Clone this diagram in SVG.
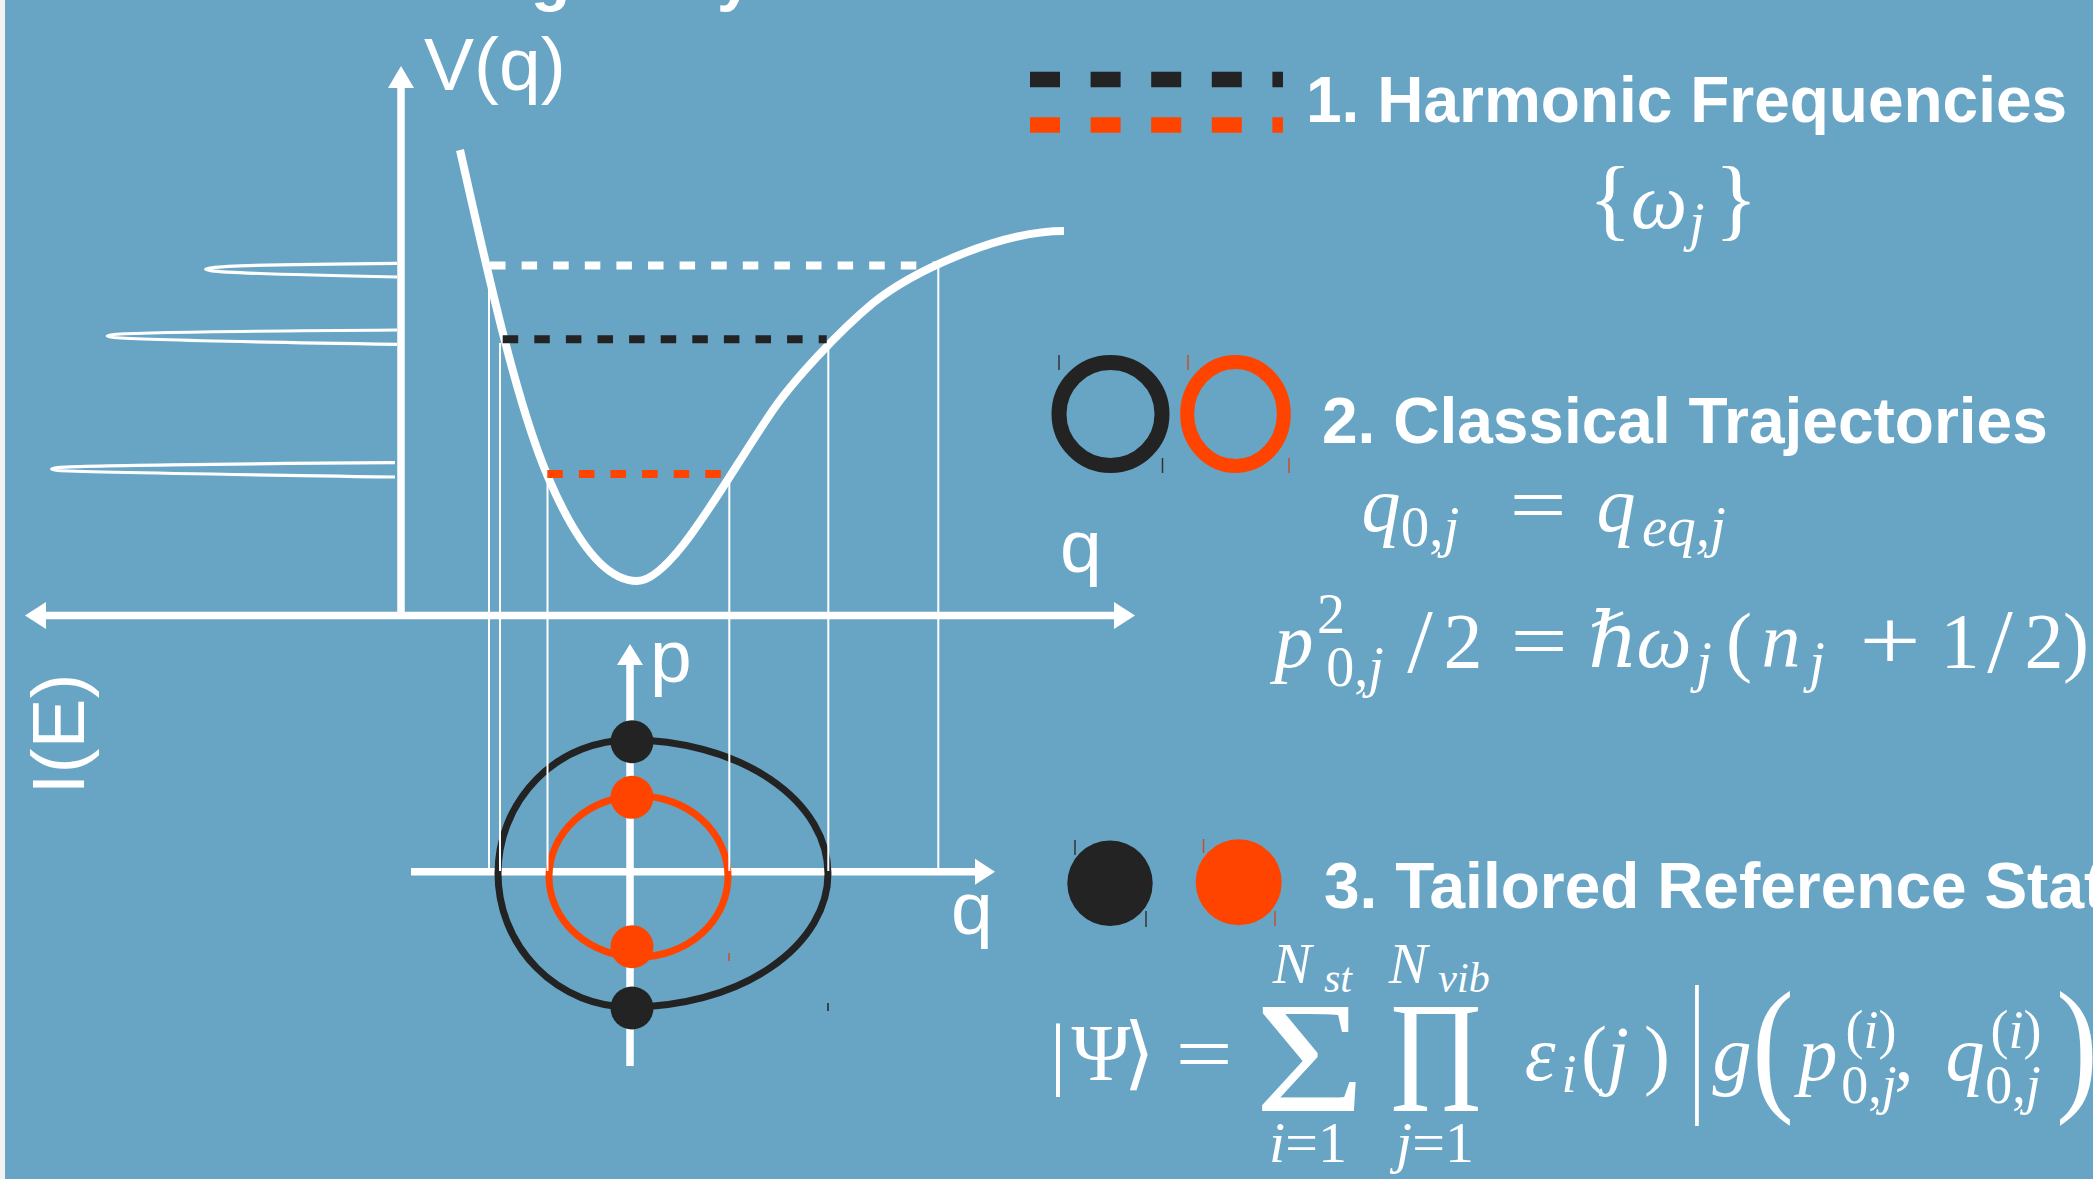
<svg xmlns="http://www.w3.org/2000/svg" width="2093" height="1179" viewBox="0 0 2093 1179">
<defs>
<style>
.lbl{font-family:"Liberation Sans",Arial,sans-serif;font-size:75px;fill:#fff}
.head{font-family:"Liberation Sans",Arial,sans-serif;font-weight:bold;font-size:64px;fill:#fff}
.m{font-family:"Liberation Serif","DejaVu Serif",serif;fill:#fff;text-anchor:middle}
.i{font-style:italic}
.ax{stroke:#fff;stroke-width:7.5;fill:none}
.proj{stroke:#fff;stroke-width:2;fill:none}
.lvl{stroke-width:8;stroke-dasharray:15.5 16.1;fill:none}
.tick{stroke-width:1.5;fill:none}
</style>
</defs>
<rect width="2093" height="1179" fill="#68a5c5"/>
<rect width="5" height="1179" fill="#f2f2f2"/>

<g id="title-fragment">
<text class="head" x="531" y="-1">g</text>
<text class="head" x="717" y="-1">y</text>
</g>

<g id="spectrum" fill="none" stroke="#fff" stroke-width="3.2">
<path d="M397 263.3 C300 264 225 266 212 267.8 C203.5 268.9 203.5 269.7 212 270.8 C225 272.5 300 275 397 277"/>
<path d="M397 330 C250 331 130 333 114 334.5 C105 335.6 105 336.4 114 337.5 C130 339 250 342 397 344.3"/>
<path d="M395 462.7 C230 463.7 75 466 58 467.5 C49.5 468.6 49.5 469.4 58 470.5 C75 472 230 474.5 395 477"/>
</g>

<g id="potential-plot">
<line class="ax" x1="401" y1="86" x2="401" y2="615"/>
<polygon points="401,66 388,88 414,88" fill="#fff"/>
<line class="ax" x1="44" y1="615.5" x2="1116" y2="615.5"/>
<polygon points="25,615.5 46,602 46,629" fill="#fff"/>
<polygon points="1135,615.5 1114,602 1114,629" fill="#fff"/>
<path d="M460 150 C485 260 515 400 548 477 C569 526 600 581 637 581 C672 581 725 480 773 410 C793 381 838 332 873 303 C913 271 1000 231 1064 231" fill="none" stroke="#fff" stroke-width="8"/>
<line class="lvl" x1="490" y1="265.5" x2="936" y2="265.5" stroke="#fff"/>
<line class="lvl" x1="502.7" y1="339.3" x2="826.7" y2="339.3" stroke="#232323"/>
<line class="lvl" x1="547.3" y1="474" x2="721" y2="474" stroke="#ff4400"/>
<text class="lbl" x="424" y="90">V(q)</text>
<text class="lbl" x="1060" y="572">q</text>
<text class="lbl" transform="translate(84,734) rotate(-90)" text-anchor="middle">I(E)</text>
</g>

<g id="phase-space">
<line class="ax" stroke-width="7" x1="411" y1="871.7" x2="977" y2="871.7"/>
<polygon points="995,871.7 975,858.7 975,884.7" fill="#fff"/>
<line class="ax" stroke-width="7" x1="630" y1="663" x2="630" y2="1066"/>
<polygon points="630,644 617,665 643,665" fill="#fff"/>
<path d="M630 740 A132 133.5 0 0 0 630 1007 A198 133.5 0 0 0 630 740 Z" fill="none" stroke="#232323" stroke-width="7"/>
<ellipse cx="638.5" cy="876.5" rx="89.5" ry="80.5" fill="none" stroke="#ff4400" stroke-width="7"/>
<text class="lbl" x="650" y="682">p</text>
<text class="lbl" x="951" y="934">q</text>
</g>

<g id="projections">
<line class="proj" x1="489" y1="277" x2="489" y2="871"/>
<line class="proj" x1="500" y1="343" x2="500" y2="871"/>
<line class="proj" x1="547.5" y1="480" x2="547.5" y2="871"/>
<line class="proj" x1="729.3" y1="482" x2="729.3" y2="871"/>
<line class="proj" x1="828.3" y1="348" x2="828.3" y2="871"/>
<line class="proj" x1="938.3" y1="267" x2="938.3" y2="871"/>
</g>

<g id="phase-dots">
<circle cx="632" cy="741.7" r="21.5" fill="#232323"/>
<circle cx="632" cy="797.3" r="21.5" fill="#ff4400"/>
<circle cx="632" cy="946.7" r="21.5" fill="#ff4400"/>
<circle cx="632" cy="1008" r="21.5" fill="#232323"/>
<line class="tick" x1="729" y1="953" x2="729" y2="961" stroke="#c0502f"/>
<line class="tick" x1="828" y1="1003" x2="828" y2="1011" stroke="#232323"/>
</g>

<g id="legend-1">
<line x1="1030" y1="79.5" x2="1283" y2="79.5" stroke="#232323" stroke-width="15.5" stroke-dasharray="30 30.6"/>
<line x1="1030" y1="125" x2="1283" y2="125" stroke="#ff4400" stroke-width="15.5" stroke-dasharray="30 30.6"/>
<text class="head" x="1306" y="122">1. Harmonic Frequencies</text>
<text class="m" font-size="90"><tspan x="1610" y="229">{</tspan><tspan class="i" font-size="80" x="1659" y="228">ω</tspan><tspan class="i" font-size="55" x="1697" y="240">j</tspan><tspan x="1736" y="229">}</tspan></text>
</g>

<g id="legend-2">
<circle cx="1110.5" cy="414" r="51.5" fill="none" stroke="#232323" stroke-width="15"/>
<ellipse cx="1235.5" cy="414" rx="48.3" ry="52" fill="none" stroke="#ff4400" stroke-width="14"/>
<line class="tick" x1="1059" y1="355" x2="1059" y2="370" stroke="#333"/>
<line class="tick" x1="1162.5" y1="458" x2="1162.5" y2="473" stroke="#333"/>
<line class="tick" x1="1188" y1="355" x2="1188" y2="370" stroke="#c0502f"/>
<line class="tick" x1="1289" y1="458" x2="1289" y2="473" stroke="#c0502f"/>
<text class="head" x="1322" y="443">2. Classical Trajectories</text>
<text class="m" font-size="78"><tspan class="i" x="1381" y="531">q</tspan><tspan font-size="57" x="1430" y="546">0,</tspan><tspan class="i" font-size="57">j</tspan><tspan class="i" x="1616" y="531">q</tspan><tspan class="i" font-size="57" x="1684" y="546">eq,</tspan><tspan class="i" font-size="57">j</tspan></text>
<text class="m" font-size="78" transform="translate(1538,531) scale(1.3,1)">=</text>
<text class="m" font-size="78"><tspan class="i" x="1294" y="667">p</tspan><tspan font-size="56" x="1331" y="633">2</tspan><tspan font-size="56" x="1355" y="686">0,</tspan><tspan class="i" font-size="56">j</tspan><tspan font-size="92" x="1420" y="672">/</tspan><tspan x="1463" y="667">2</tspan><tspan class="i" x="1613" y="667">ℏ</tspan><tspan class="i" x="1664" y="667">ω</tspan><tspan class="i" font-size="56" x="1704" y="681">j</tspan><tspan x="1739" y="667">(</tspan><tspan class="i" x="1781" y="667">n</tspan><tspan class="i" font-size="56" x="1817" y="681">j</tspan><tspan x="1960" y="667">1</tspan><tspan font-size="92" x="2000" y="672">/</tspan><tspan x="2044" y="667">2</tspan><tspan x="2076" y="667">)</tspan></text>
<text class="m" font-size="78" transform="translate(1539,667) scale(1.3,1)">=</text>
<text class="m" font-size="78" transform="translate(1890,670) scale(1.4,1.1)">+</text>
</g>

<g id="legend-3">
<circle cx="1110" cy="883.3" r="42.7" fill="#232323"/>
<circle cx="1238.7" cy="882.3" r="43" fill="#ff4400"/>
<line class="tick" x1="1075" y1="840" x2="1075" y2="855" stroke="#333"/>
<line class="tick" x1="1146" y1="911" x2="1146" y2="927" stroke="#333"/>
<line class="tick" x1="1203.5" y1="839" x2="1203.5" y2="853" stroke="#c0502f"/>
<line class="tick" x1="1275" y1="911" x2="1275" y2="926" stroke="#c0502f"/>
<text class="head" x="1324" y="908">3. Tailored Reference States</text>
<text class="m" font-size="80"><tspan x="1058" y="1080">|</tspan><tspan x="1101" y="1080">Ψ</tspan><tspan x="1139" y="1080">⟩</tspan></text>
<text class="m" font-size="78" transform="translate(1204,1080) scale(1.3,1)">=</text>
<text class="m" font-size="158" transform="translate(1310,1111) scale(1.2,1)">Σ</text>
<text class="m" font-size="158" transform="translate(1436,1111) scale(0.8,1)">Π</text>
<text class="m"><tspan class="i" font-size="58" x="1292" y="983">N</tspan><tspan class="i" font-size="42" x="1338" y="992">st</tspan><tspan class="i" font-size="58" x="1408" y="983">N</tspan><tspan class="i" font-size="42" x="1464" y="992">vib</tspan></text>
<text class="m" font-size="58"><tspan class="i" x="1308" y="1162">i</tspan><tspan>=1</tspan><tspan class="i" x="1435" y="1162">j</tspan><tspan>=1</tspan></text>
<text class="m" font-size="78"><tspan class="i" x="1540" y="1080">ε</tspan><tspan class="i" font-size="54" x="1569" y="1092">i</tspan><tspan x="1594" y="1080">(</tspan><tspan class="i" x="1618" y="1080">j</tspan><tspan x="1657" y="1080">)</tspan><tspan class="i" x="1732" y="1080">g</tspan><tspan class="i" x="1818" y="1080">p</tspan><tspan font-size="54" x="1871" y="1048">(</tspan><tspan class="i" font-size="54">i</tspan><tspan font-size="54">)</tspan><tspan font-size="54" x="1869" y="1103">0,</tspan><tspan class="i" font-size="54">j</tspan><tspan x="1904" y="1080">,</tspan><tspan class="i" x="1965" y="1080">q</tspan><tspan font-size="54" x="2016" y="1048">(</tspan><tspan class="i" font-size="54">i</tspan><tspan font-size="54">)</tspan><tspan font-size="54" x="2013" y="1103">0,</tspan><tspan class="i" font-size="54">j</tspan></text>
<text class="m" font-size="74" transform="translate(1697,1093) scale(1,2.1)">|</text>
<text class="m" font-size="74" transform="translate(1773,1094) scale(1.7,2)">(</text>
<text class="m" font-size="74" transform="translate(2077,1094) scale(1.7,2)">)</text>
</g>
</svg>
